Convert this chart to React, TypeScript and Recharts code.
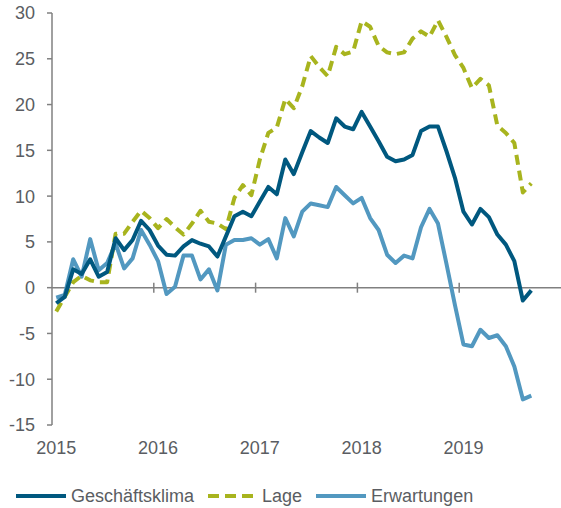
import { LineChart, Line, XAxis, YAxis, ReferenceLine, Legend } from "recharts";

const years = ["2015", "2016", "2017", "2018", "2019"];
const seriesNames = ["Geschäftsklima", "Lage", "Erwartungen"];

// monthly values, Jan 2015 .. Sep 2019
const geschaeftsklima = [
  -1.7, -1.0, 2.0, 1.5, 3.1, 1.2, 1.7, 5.4, 4.1, 5.2, 7.3, 6.3,
  4.6, 3.6, 3.5, 4.5, 5.2, 4.8, 4.5, 3.4, 5.6, 7.8, 8.3, 7.8,
  9.4, 11.0, 10.2, 14.0, 12.4, 14.8, 17.1, 16.4, 15.8, 18.5, 17.6, 17.3,
  19.2, 17.6, 16.0, 14.3, 13.8, 14.0, 14.5, 17.1, 17.6, 17.6, 14.9, 12.0,
  8.3, 6.9, 8.6, 7.7, 5.8, 4.7, 2.9, -1.4, -0.3,
];

const lage = [
  -2.6, -1.0, 0.6, 1.3, 0.8, 0.6, 0.6, 5.9, 5.9, 7.2, 8.4, 7.6,
  6.5, 7.5, 6.6, 5.8, 7.0, 8.4, 7.2, 7.0, 6.4, 9.8, 11.2, 10.1,
  14.0, 16.9, 17.5, 20.6, 19.6, 22.0, 25.3, 24.1, 23.1, 26.3, 25.5, 25.8,
  29.1, 28.5, 26.4, 25.7, 25.5, 25.7, 27.2, 28.0, 27.4, 29.2, 27.4, 25.4,
  24.0, 21.8, 22.8, 22.1, 17.7, 16.9, 15.8, 10.4, 11.4,
];

const erwartungen = [
  -1.1, -0.8, 3.1, 1.2, 5.3, 1.9, 2.7, 4.8, 2.1, 3.2, 6.3, 4.7,
  2.9, -0.7, 0.1, 3.5, 3.5, 0.9, 2.0, -0.3, 4.7, 5.2, 5.2, 5.4,
  4.7, 5.3, 3.2, 7.6, 5.6, 8.3, 9.2, 9.0, 8.8, 11.0, 10.1, 9.2,
  9.8, 7.6, 6.3, 3.6, 2.7, 3.5, 3.2, 6.6, 8.6, 7.0, 2.6, -1.9,
  -6.2, -6.4, -4.6, -5.5, -5.2, -6.4, -8.6, -12.2, -11.8,
];

const yTicks = [-15, -10, -5, 0, 5, 10, 15, 20, 25, 30];

const data = geschaeftsklima.map((g, i) => ({
  m: i + 0.5,
  g,
  l: lage[i],
  e: erwartungen[i],
}));

const labelTicks = years.map((_, k) => k * 12 + 0.5);
const yearBounds = years.slice(1).map((_, k) => (k + 1) * 12);

const AXIS = "#808080";
const TEXT = "#5a5d62";
const FONT = "'Liberation Sans', Arial, sans-serif";

function renderLegend(props: any) {
  const items = [...(props.payload || [])].sort(
    (a: any, b: any) => seriesNames.indexOf(a.value) - seriesNames.indexOf(b.value)
  );
  return (
    <div
      style={{
        display: "flex",
        alignItems: "center",
        paddingLeft: 16,
        fontFamily: FONT,
        fontSize: 18,
        color: TEXT,
        lineHeight: "22px",
      }}
    >
      {items.map((it: any) => {
        const dash = it.payload?.strokeDasharray;
        const w = dash ? 46 : 50;
        return (
          <div
            key={it.value}
            style={{ display: "flex", alignItems: "center", marginRight: 14 }}
          >
            <svg width={w} height={8} style={{ marginRight: dash ? 8 : 5 }}>
              <line
                x1={0}
                y1={4}
                x2={w}
                y2={4}
                stroke={it.color}
                strokeWidth={4}
                strokeDasharray={dash ? "11 6" : undefined}
              />
            </svg>
            <span>{it.value}</span>
          </div>
        );
      })}
    </div>
  );
}

export default function App() {
  return (
    <div style={{ position: "absolute", left: 0, top: 0 }}>
      <LineChart
        width={561}
        height={508}
        data={data}
        margin={{ top: 13, right: 0, bottom: 53, left: 0 }}
        style={{ fontFamily: FONT }}
      >
        <XAxis
          dataKey="m"
          type="number"
          domain={[0, 60]}
          ticks={labelTicks}
          interval={0}
          tickFormatter={(v: number) => years[Math.floor(v / 12)]}
          axisLine={false}
          tickLine={false}
          tickSize={0}
          tickMargin={16}
          height={30}
          tick={{ fill: TEXT, fontSize: 18 }}
        />
        <YAxis
          domain={[-15, 30]}
          ticks={yTicks}
          interval={0}
          width={52}
          tickSize={5}
          tickMargin={12}
          axisLine={{ stroke: AXIS, strokeWidth: 1.5 }}
          tickLine={{ stroke: AXIS, strokeWidth: 1.5 }}
          tick={{ fill: TEXT, fontSize: 18 }}
        />
        <ReferenceLine y={0} stroke={AXIS} strokeWidth={1.5} />
        {yearBounds.map((x) => (
          <ReferenceLine
            key={x}
            segment={[
              { x, y: -0.55 },
              { x, y: 0.55 },
            ]}
            stroke={AXIS}
            strokeWidth={1.5}
          />
        ))}
        <Line
          dataKey="e"
          name="Erwartungen"
          stroke="#5298C0"
          strokeWidth={4}
          dot={false}
          activeDot={false}
          strokeLinejoin="round"
          isAnimationActive={false}
        />
        <Line
          dataKey="l"
          name="Lage"
          stroke="#A8B41E"
          strokeWidth={4}
          strokeDasharray="10 6"
          dot={false}
          activeDot={false}
          strokeLinejoin="round"
          isAnimationActive={false}
        />
        <Line
          dataKey="g"
          name="Geschäftsklima"
          stroke="#00587F"
          strokeWidth={4}
          dot={false}
          activeDot={false}
          strokeLinejoin="round"
          isAnimationActive={false}
        />
        <Legend
          content={renderLegend}
          layout="horizontal"
          verticalAlign="middle"
          align="center"
          wrapperStyle={{ top: 485, left: 0, width: 561 }}
        />
      </LineChart>
    </div>
  );
}
